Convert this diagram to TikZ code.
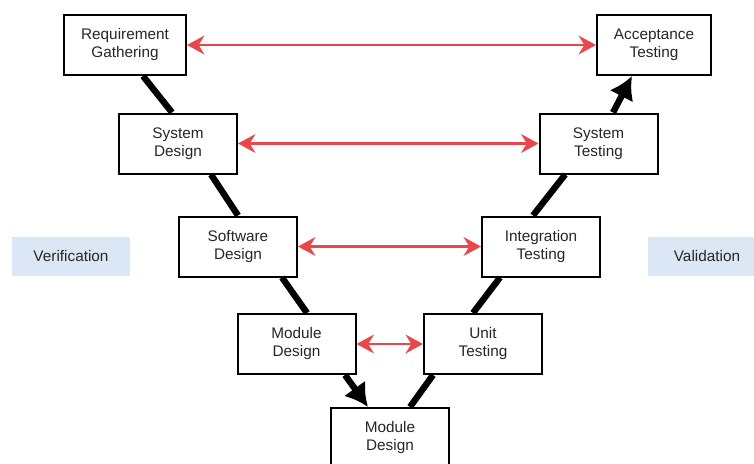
\documentclass[tikz,border=0pt]{standalone}
\usepackage{fontspec}
\setmainfont{Liberation Sans}
\usetikzlibrary{arrows.meta,positioning}
\definecolor{pairred}{HTML}{E8474C}
\definecolor{tagblue}{HTML}{DCE7F5}

\begin{document}
\begin{tikzpicture}[
            x=0.75pt, y=-0.75pt,
            phase/.style={rectangle, draw, line width=1.5pt, fill=white, minimum width=88.5pt, minimum height=45pt, align=center, text=black!85, font=\fontsize{11.5}{13.5}\selectfont},
            tag/.style={rectangle, fill=tagblue, minimum width=88.5pt, minimum height=29pt, text=black!85, font=\fontsize{11.5}{13.5}\selectfont},
            flow/.style={line width=4.8pt},
            flowtip/.style={flow, -{Latex[length=17pt, width=20pt]}},
            pair/.style={{Stealth[length=13pt, width=14pt]}-{Stealth[length=13pt, width=14pt]}, pairred, line width=2.2pt}
        ]
            \useasboundingbox (0,0) rectangle (754,464);

            % Left arm
            \node[phase, minimum width=91.5pt] (rg) at (125,45) {Requirement\\Gathering};
            \node[phase] (sd) at (178,143.5) {System\\Design};
            \node[phase] (swd) at (238,246.5) {Software\\Design};
            \node[phase] (md) at (296.5,344) {Module\\Design};

            % Bottom
            \node[phase] (mb) at (390,438) {Module\\Design};

            % Right arm
            \node[phase, minimum width=85.5pt] (at) at (654,45) {Acceptance\\Testing};
            \node[phase] (st) at (598.5,143.5) {System\\Testing};
            \node[phase] (it) at (541,246.5) {Integration\\Testing};
            \node[phase] (ut) at (483,344) {Unit\\Testing};

            % Side tags
            \node[tag] (ver) at (71,256.5) {Verification};
            \node[tag] (val) at (707,256.5) {Validation};

            % V flow
            \draw[flow] ([xshift=13.5pt]rg.south) -- ([xshift=-4.5pt]sd.north);
            \draw[flow] ([xshift=24.75pt]sd.south) -- (swd.north);
            \draw[flow] ([xshift=33pt]swd.south) -- ([xshift=7.9pt]md.north);
            \draw[flowtip] ([xshift=36.4pt]md.south) -- ([xshift=-16.5pt]mb.north);
            \draw[flow] ([xshift=15pt]mb.north) -- ([xshift=-37.5pt]ut.south);
            \draw[flow] ([xshift=-7.5pt]ut.north) -- ([xshift=-30.75pt]it.south);
            \draw[flow] ([xshift=-6pt]it.north) -- ([xshift=-25pt]st.south);
            \draw[flowtip] ([xshift=10.9pt]st.north) -- ([xshift=-16.5pt]at.south);

            % Matching pairs
            \draw[pair] (rg) -- (at);
            \draw[pair] (sd) -- (st);
            \draw[pair] (swd) -- (it);
            \draw[pair] (md) -- (ut);

        \end{tikzpicture}
\end{document}
